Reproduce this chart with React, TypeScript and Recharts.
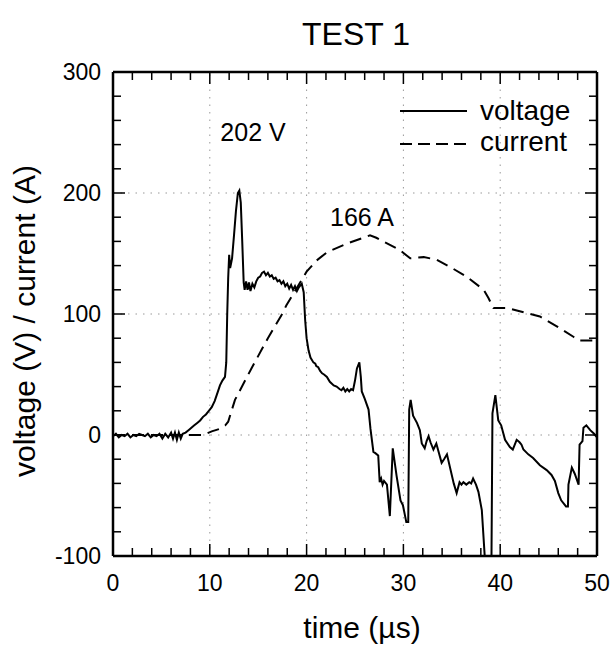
import React from 'react';
import { LineChart, Line, XAxis, YAxis, ReferenceLine } from 'recharts';

const voltageT = [0, 0.3, 0.6, 0.9, 1.2, 1.5, 1.8, 2.1, 2.4, 2.7, 3.0, 3.3, 3.6, 3.9, 4.2, 4.5, 4.8, 5.1, 5.4, 5.7, 6.0, 6.2, 6.4, 6.6, 6.8, 7.0, 7.2, 7.5, 7.8, 8.1, 8.4, 8.7, 9.0, 9.3, 9.6, 9.9, 10.2, 10.5, 10.8, 11.05, 11.3, 11.57, 11.7, 11.8, 11.9, 12.0, 12.1, 12.2, 12.3, 12.5, 12.7, 12.9, 13.05, 13.2, 13.35, 13.5, 13.6, 13.75, 13.9, 14.05, 14.2, 14.4, 14.6, 14.8, 15.0, 15.2, 15.4, 15.6, 15.8, 16.0, 16.2, 16.4, 16.6, 16.8, 17.0, 17.2, 17.4, 17.6, 17.8, 18.0, 18.2, 18.4, 18.6, 18.8, 19.0, 19.2, 19.5, 19.7, 19.85, 20.0, 20.2, 20.4, 20.7, 20.9, 21.0, 21.2, 21.4, 21.6, 21.8, 22.1, 22.4, 22.8, 23.1, 23.4, 23.6, 23.8, 24.0, 24.2, 24.4, 24.6, 24.8, 25.0, 25.2, 25.45, 25.6, 25.7, 26.0, 26.4, 26.6, 26.9, 27.1, 27.4, 27.55, 27.7, 27.85, 28.0, 28.3, 28.6, 28.9, 29.3, 29.7, 29.95, 30.3, 30.5, 30.6, 30.75, 31.0, 31.4, 31.7, 31.9, 32.2, 32.4, 32.6, 32.8, 33.1, 33.4, 33.95, 34.2, 34.5, 35.2, 35.5, 35.8, 36.0, 36.2, 36.5, 36.8, 37.0, 37.2, 37.5, 37.75, 38.1, 38.4, 38.6, 38.9, 39.1, 39.2, 39.5, 39.8, 40.1, 40.5, 41.0, 41.3, 41.7, 42.0, 42.2, 42.4, 42.9, 43.4, 44.1, 44.8, 45.3, 45.65, 46.0, 46.3, 46.8, 47.0, 47.05, 47.4, 47.7, 48.1, 48.2, 48.5, 48.6, 48.9, 49.3, 49.7, 50.0];
const voltageV = [-1, 1, -2, 0, -1, 1, -2, 0, -1, 1, 0, -1, 1, -2, 0, -1, 1, -3, 1, -2, 2, -3, 2, -4, 2, -3, 1, 2, 4, 6, 8, 10, 12, 15, 17, 20, 23, 28, 35, 41, 45, 48, 60, 100, 130, 149, 138, 142, 146, 165, 185, 200, 202, 192, 160, 126, 120, 127, 120, 126, 119, 125, 122, 127, 130, 131, 134, 135, 132, 134, 131, 132, 129, 130, 127, 128, 125, 127, 123, 125, 121, 124, 120, 123, 119, 122, 125, 118, 95, 80, 70, 64, 60, 59, 57, 56, 53, 51, 50, 48, 44, 41, 40, 38, 37, 39, 36, 38, 36, 38, 37, 45, 55, 60, 48, 36, 30, 21, 5, -14, -15, -17, -39, -36, -41, -38, -41, -67, -11, -34, -54, -58, -72, -72, 21, 29, 16, 10, 4, -7, -11, -5, -1, -6, -12, -7, -23, -20, -16, -40, -48, -39, -41, -39, -41, -39, -40, -36, -41, -47, -62, -100, -130, -130, -100, 18, 33, 12, 8, -4, -10, -12, -4, -6, -8, -12, -16, -19, -25, -29, -33, -38, -48, -54, -59, -59, -41, -27, -32, -41, -8, -5, 6, 8, 4, 1, -2];

const currentT = [0, 2, 4, 6, 8, 9.3, 10.2, 11.0, 11.6, 11.9, 12.6, 14.3, 16.0, 17.4, 17.9, 20.0, 21.0, 22.1, 24.1, 25.5, 26.55, 27.2, 27.9, 29.6, 30.7, 32.1, 33.4, 34.8, 36.5, 38.3, 38.8, 39.3, 40.7, 43.1, 44.1, 45.8, 47.6, 48.2, 50.0];
const currentV = [0, 0, 0, 0, 0, 0, 3, 5, 8, 11, 29, 55, 80, 99, 107, 135, 144, 151, 158, 162, 165, 163, 160, 153, 146, 147, 145, 139, 131, 120, 113, 105, 105, 100, 98, 90, 81, 78, 78];

const xTicks = [0, 2, 4, 6, 8, 10, 12, 14, 16, 18, 20, 22, 24, 26, 28, 30, 32, 34, 36, 38, 40, 42, 44, 46, 48, 50];
const yTicks = [-100, -80, -60, -40, -20, 0, 20, 40, 60, 80, 100, 120, 140, 160, 180, 200, 220, 240, 260, 280, 300];
const xGrid = [10, 20, 30, 40];
const yGrid = [0, 100, 200];
const title = 'TEST 1';
const xLabel = 'time (\u00b5s)';
const yLabel = 'voltage (V) / current (A)';
const seriesNames = ['voltage', 'current'];
const peakLabels = ['202 V', '166 A'];

const voltageData = voltageT.map((t, i) => ({ t, v: voltageV[i] }));
const currentData = currentT.map((t, i) => ({ t, c: currentV[i] }));

const FONT = '"Liberation Sans", Arial, Helvetica, sans-serif';

const isMajorX = (v: number) => v % 10 === 0;
const isMajorY = (v: number) => v % 100 === 0;

const BottomTick = (p: any) => {
  const { x, y, payload } = p;
  const major = isMajorX(payload.value);
  return (
    <g>
      <line x1={x} y1={y} x2={x} y2={y - (major ? 12 : 8)} stroke="#000" strokeWidth={1.5} />
      {major && (
        <text x={x} y={y + 35} textAnchor="middle" fontFamily={FONT} fontSize={23} fill="#000">
          {payload.value}
        </text>
      )}
    </g>
  );
};
const TopTick = (p: any) => {
  const { x, y, payload } = p;
  const major = isMajorX(payload.value);
  return <line x1={x} y1={y} x2={x} y2={y + (major ? 12 : 8)} stroke="#000" strokeWidth={1.5} />;
};
const LeftTick = (p: any) => {
  const { x, y, payload } = p;
  const major = isMajorY(payload.value);
  return (
    <g>
      <line x1={x} y1={y} x2={x + (major ? 12 : 8)} y2={y} stroke="#000" strokeWidth={1.5} />
      {major && (
        <text x={x - 12} y={y + 8} textAnchor="end" fontFamily={FONT} fontSize={23} fill="#000">
          {payload.value}
        </text>
      )}
    </g>
  );
};
const RightTick = (p: any) => {
  const { x, y, payload } = p;
  const major = isMajorY(payload.value);
  return <line x1={x} y1={y} x2={x - (major ? 12 : 8)} y2={y} stroke="#000" strokeWidth={1.5} />;
};

const axisLine = { stroke: '#000', strokeWidth: 2.5 };

export default function App() {
  return (
    <div style={{ position: 'absolute', left: 0, top: 0, width: 615, height: 648, background: '#fff' }}>
      <LineChart width={615} height={648} margin={{ top: 71, right: 17, bottom: 52, left: 53 }}>
        <XAxis
          xAxisId="b"
          type="number"
          dataKey="t"
          domain={[0, 50]}
          ticks={xTicks}
          interval={0}
          height={40}
          tickSize={0}
          tickMargin={0}
          tickLine={false}
          axisLine={axisLine}
          tick={BottomTick}
          allowDataOverflow
        />
        <XAxis
          xAxisId="top"
          orientation="top"
          type="number"
          dataKey="t"
          domain={[0, 50]}
          ticks={xTicks}
          interval={0}
          height={1}
          tickSize={0}
          tickMargin={0}
          tickLine={false}
          axisLine={axisLine}
          tick={TopTick}
          allowDataOverflow
        />
        <YAxis
          yAxisId="l"
          type="number"
          domain={[-100, 300]}
          ticks={yTicks}
          interval={0}
          width={60}
          tickSize={0}
          tickMargin={0}
          tickLine={false}
          axisLine={axisLine}
          tick={LeftTick}
          allowDataOverflow
        />
        <YAxis
          yAxisId="r"
          orientation="right"
          type="number"
          domain={[-100, 300]}
          ticks={yTicks}
          interval={0}
          width={1}
          tickSize={0}
          tickMargin={0}
          tickLine={false}
          axisLine={axisLine}
          tick={RightTick}
          allowDataOverflow
        />
        {xGrid.map((g) => (
          <ReferenceLine key={'gx' + g} x={g} xAxisId="b" yAxisId="l" stroke="#999" strokeWidth={1} strokeDasharray="1.5 6" />
        ))}
        {yGrid.map((g) => (
          <ReferenceLine key={'gy' + g} y={g} xAxisId="b" yAxisId="l" stroke="#999" strokeWidth={1} strokeDasharray="1.5 6" />
        ))}
        <Line
          data={currentData}
          xAxisId="top"
          yAxisId="r"
          dataKey="c"
          stroke="none"
          dot={false}
          activeDot={false}
          legendType="none"
          isAnimationActive={false}
        />
        <Line
          data={voltageData}
          xAxisId="b"
          yAxisId="l"
          dataKey="v"
          name={seriesNames[0]}
          stroke="#000"
          strokeWidth={2}
          dot={false}
          isAnimationActive={false}
          type="linear"
        />
        <Line
          data={currentData}
          xAxisId="b"
          yAxisId="l"
          dataKey="c"
          name={seriesNames[1]}
          stroke="#000"
          strokeWidth={2}
          strokeDasharray="12 7"
          dot={false}
          isAnimationActive={false}
          type="linear"
        />
      </LineChart>
      <svg
        width={615}
        height={648}
        style={{ position: 'absolute', left: 0, top: 0, pointerEvents: 'none' }}
        fontFamily={FONT}
      >
        <text x={356} y={45} textAnchor="middle" fontSize={32} fill="#000">{title}</text>
        <text x={253} y={141} textAnchor="middle" fontSize={25} fill="#000">{peakLabels[0]}</text>
        <text x={362} y={226} textAnchor="middle" fontSize={25} fill="#000">{peakLabels[1]}</text>
        <text x={362} y={638} textAnchor="middle" fontSize={30} fill="#000">{xLabel}</text>
        <text
          x={0}
          y={0}
          transform="translate(35,321) rotate(-90)"
          textAnchor="middle"
          fontSize={30}
          fill="#000"
        >
          {yLabel}
        </text>
        <line x1={400} y1={111} x2={467} y2={111} stroke="#000" strokeWidth={2} />
        <text x={480} y={120} fontSize={28} fill="#000">{seriesNames[0]}</text>
        <line x1={400} y1={144} x2={467} y2={144} stroke="#000" strokeWidth={2} strokeDasharray="12 6" />
        <text x={480} y={151} fontSize={28} fill="#000">{seriesNames[1]}</text>
      </svg>
    </div>
  );
}
